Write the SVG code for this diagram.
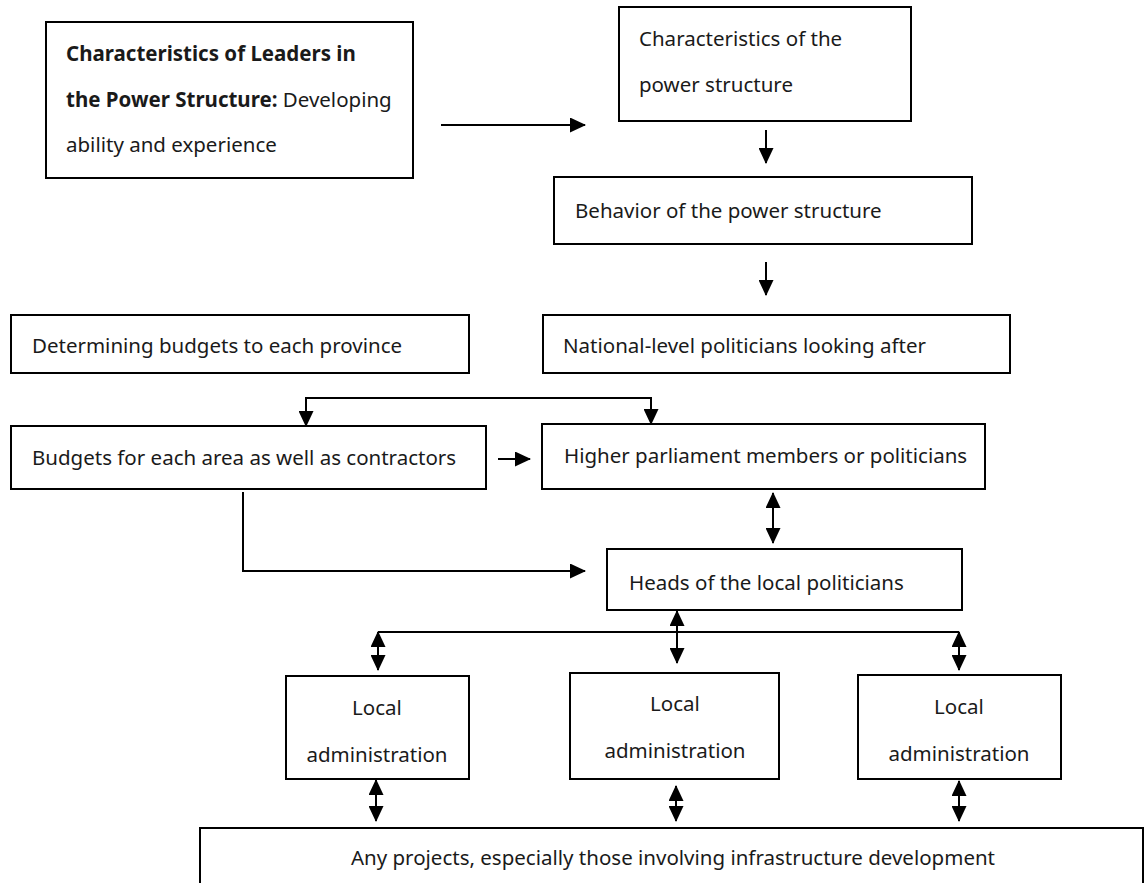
<svg xmlns="http://www.w3.org/2000/svg" width="1146" height="883" viewBox="0 0 1146 883">
  <style>
    .box { fill: #ffffff; stroke: #000000; stroke-width: 2; }
    .lbl { font-family: "Noto Sans", "DejaVu Sans", sans-serif; font-size: 20.5px; fill: #1a1a1a; }
    .mid { text-anchor: middle; }
    .b { font-weight: bold; }
    .wire { fill: none; stroke: #000000; stroke-width: 2; }
  </style>
  <defs>
    <marker id="head" viewBox="0 0 16 15" refX="15" refY="7.5" markerWidth="16" markerHeight="15" markerUnits="userSpaceOnUse" orient="auto-start-reverse">
      <path d="M0,0 L16,7.5 L0,15 Z" fill="#000000"/>
    </marker>
  </defs>
  <rect x="0" y="0" width="1146" height="883" fill="#ffffff"/>

  <g id="leaders">
    <rect class="box" x="46" y="22" width="367" height="156"/>
    <text class="lbl b" x="66" y="61">Characteristics of Leaders in</text>
    <text class="lbl" x="66" y="107"><tspan class="b">the Power Structure:</tspan> Developing</text>
    <text class="lbl" x="66" y="152">ability and experience</text>
  </g>

  <g id="structure">
    <rect class="box" x="619" y="7" width="292" height="114"/>
    <text class="lbl" x="639" y="46">Characteristics of the</text>
    <text class="lbl" x="639" y="92">power structure</text>
  </g>

  <g id="behavior">
    <rect class="box" x="554" y="177" width="418" height="67"/>
    <text class="lbl" x="575" y="218">Behavior of the power structure</text>
  </g>

  <g id="national">
    <rect class="box" x="543" y="315" width="467" height="58"/>
    <text class="lbl" x="563" y="353">National-level politicians looking after</text>
  </g>

  <g id="budgets-province">
    <rect class="box" x="11" y="315" width="458" height="58"/>
    <text class="lbl" x="32" y="353">Determining budgets to each province</text>
  </g>

  <g id="budgets-area">
    <rect class="box" x="11" y="426" width="475" height="63"/>
    <text class="lbl" x="32" y="465">Budgets for each area as well as contractors</text>
  </g>

  <g id="parliament">
    <rect class="box" x="542" y="424" width="443" height="65"/>
    <text class="lbl" x="564" y="463">Higher parliament members or politicians</text>
  </g>

  <g id="local-heads">
    <rect class="box" x="607" y="549" width="355" height="61"/>
    <text class="lbl" x="629" y="590">Heads of the local politicians</text>
  </g>

  <g id="local-1">
    <rect class="box" x="286" y="676" width="183" height="103"/>
    <text class="lbl mid" x="377" y="715">Local</text>
    <text class="lbl mid" x="377" y="762">administration</text>
  </g>

  <g id="local-2">
    <rect class="box" x="570" y="673" width="209" height="106"/>
    <text class="lbl mid" x="675" y="711">Local</text>
    <text class="lbl mid" x="675" y="758">administration</text>
  </g>

  <g id="local-3">
    <rect class="box" x="858" y="675" width="203" height="104"/>
    <text class="lbl mid" x="959" y="714">Local</text>
    <text class="lbl mid" x="959" y="761">administration</text>
  </g>

  <g id="projects">
    <rect class="box" x="200" y="828" width="943" height="70"/>
    <text class="lbl mid" x="673" y="865">Any projects, especially those involving infrastructure development</text>
  </g>

  <g id="connectors">
    <!-- leaders to structure -->
    <line class="wire" x1="441" y1="125" x2="585" y2="125" marker-end="url(#head)"/>
    <!-- structure chain -->
    <line class="wire" x1="766" y1="130" x2="766" y2="163" marker-end="url(#head)"/>
    <line class="wire" x1="766" y1="262" x2="766" y2="295" marker-end="url(#head)"/>
    <!-- split to area budgets and parliament -->
    <path class="wire" d="M306,426 L306,398 L651,398 L651,424" marker-start="url(#head)" marker-end="url(#head)"/>
    <!-- area budgets to parliament -->
    <line class="wire" x1="498" y1="459" x2="530" y2="459" marker-end="url(#head)"/>
    <!-- area budgets to heads -->
    <path class="wire" d="M243,492 L243,571 L585,571" marker-end="url(#head)"/>
    <!-- parliament and heads -->
    <line class="wire" x1="773" y1="493" x2="773" y2="543" marker-start="url(#head)" marker-end="url(#head)"/>
    <!-- heads to local administrations -->
    <line class="wire" x1="378" y1="632" x2="959" y2="632"/>
    <line class="wire" x1="677" y1="611" x2="677" y2="663" marker-start="url(#head)" marker-end="url(#head)"/>
    <line class="wire" x1="378" y1="632" x2="378" y2="670" marker-start="url(#head)" marker-end="url(#head)"/>
    <line class="wire" x1="959" y1="632" x2="959" y2="670" marker-start="url(#head)" marker-end="url(#head)"/>
    <!-- local administrations to projects -->
    <line class="wire" x1="376" y1="780" x2="376" y2="821" marker-start="url(#head)" marker-end="url(#head)"/>
    <line class="wire" x1="676" y1="786" x2="676" y2="821" marker-start="url(#head)" marker-end="url(#head)"/>
    <line class="wire" x1="959" y1="781" x2="959" y2="821" marker-start="url(#head)" marker-end="url(#head)"/>
  </g>
</svg>
